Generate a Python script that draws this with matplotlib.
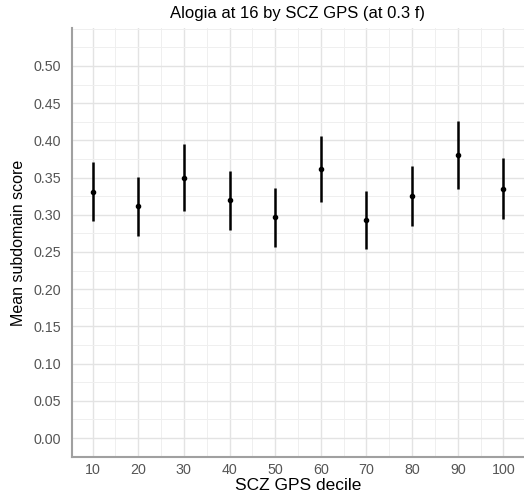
import matplotlib
matplotlib.use("Agg")
import matplotlib.pyplot as plt
from matplotlib.ticker import MultipleLocator

plt.rcParams['font.family'] = ['Liberation Sans', 'DejaVu Sans']

deciles = [10, 20, 30, 40, 50, 60, 70, 80, 90, 100]
mean_score = [0.331, 0.312, 0.350, 0.320, 0.297, 0.362, 0.293, 0.325, 0.381, 0.335]
ci_low = [0.291, 0.272, 0.305, 0.280, 0.257, 0.317, 0.254, 0.285, 0.335, 0.294]
ci_high = [0.371, 0.351, 0.395, 0.359, 0.336, 0.406, 0.332, 0.366, 0.426, 0.376]

fig = plt.figure(figsize=(5.24, 4.94), dpi=100)
ax = fig.add_axes([72 / 524, 1 - 457 / 494, (524 - 72) / 524, (457 - 28) / 494])

err_lo = [m - lo for m, lo in zip(mean_score, ci_low)]
err_hi = [hi - m for m, hi in zip(mean_score, ci_high)]
ax.errorbar(deciles, mean_score, yerr=[err_lo, err_hi], fmt='o', color='black',
            ecolor='black', elinewidth=1.8, capsize=0, markersize=3, zorder=3)

ax.set_xlim(5.5, 104.5)
ax.set_ylim(-0.0255, 0.551)
ax.set_xticks(deciles)
ax.set_yticks([i * 0.05 for i in range(11)])
ax.set_yticklabels([f"{i * 0.05:.2f}" for i in range(11)])
ax.xaxis.set_minor_locator(MultipleLocator(5))
ax.yaxis.set_minor_locator(MultipleLocator(0.025))

ax.grid(True, which='major', color='#e3e3e3', linewidth=1.0)
ax.grid(True, which='minor', color='#efefef', linewidth=0.7)
ax.set_axisbelow(True)

for side in ['top', 'right']:
    ax.spines[side].set_visible(False)
for side in ['left', 'bottom']:
    ax.spines[side].set_color('#a0a0a0')
    ax.spines[side].set_linewidth(1.5)

ax.tick_params(which='both', length=0, colors='#555555', labelsize=10.3)
ax.tick_params(axis='y', pad=8)
ax.tick_params(axis='x', pad=4)

ax.set_title('Alogia at 16 by SCZ GPS (at 0.3 f)', fontsize=12, pad=7)
ax.set_xlabel('SCZ GPS decile', fontsize=12.5, labelpad=1)
ax.set_ylabel('Mean subdomain score', fontsize=11.5, labelpad=5)

fig.savefig('out.png', dpi=100)
